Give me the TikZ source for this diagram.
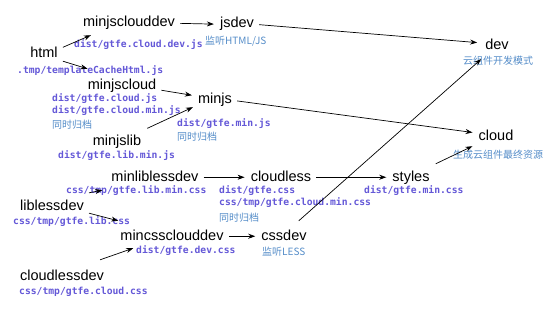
\documentclass[tikz,border=0pt]{standalone}
\usepackage{fontspec}
\setmainfont{Liberation Sans}
\newfontfamily\pathfont{DejaVu Sans Mono}
\newfontfamily\cjkfont{Noto Sans CJK SC}
\usetikzlibrary{arrows.meta}
\definecolor{GtPurple}{RGB}{100,88,215}
\definecolor{GtBlue}{RGB}{84,140,200}

\begin{document}
\begin{tikzpicture}[x=1pt, y=-1pt,
          task/.style={inner sep=0pt, anchor=base, text height=10.5pt, text depth=3pt,
                       font=\fontsize{14.5}{16}\selectfont},
          file/.style={inner sep=0pt, anchor=west, text=GtPurple,
                       font=\pathfont\bfseries\fontsize{9.7}{11}\selectfont},
          note/.style={inner sep=0pt, anchor=west, text=GtBlue,
                       font=\cjkfont\fontsize{10}{12}\selectfont},
          arr/.style={-{Stealth[length=7pt, width=5pt]}, draw=black, line width=0.7pt},
          hop/.style={arr, shorten <=5pt, shorten >=6pt}
        ]
        \useasboundingbox (0,0) rectangle (554,310);

        % js tasks
        \node[task] (minjsclouddev)  at (129, 27)  {minjsclouddev};
        \node[task] (jsdev)          at (237, 28)  {jsdev};
        \node[task] (html)           at (44, 58)   {html};
        \node[task] (dev)            at (497, 50)  {dev};
        \node[task] (minjscloud)     at (122, 90)  {minjscloud};
        \node[task] (minjs)          at (215, 104) {minjs};
        \node[task] (cloud)          at (496, 141) {cloud};
        \node[task] (minjslib)       at (117, 146) {minjslib};

        % css tasks
        \node[task] (minliblessdev)  at (155, 181) {minliblessdev};
        \node[task] (cloudless)      at (281, 181) {cloudless};
        \node[task] (styles)         at (411, 181) {styles};
        \node[task] (liblessdev)     at (52, 210)  {liblessdev};
        \node[task] (mincssclouddev) at (172, 240) {mincssclouddev};
        \node[task] (cssdev)         at (284, 240) {cssdev};
        \node[task] (cloudlessdev)   at (62, 280)  {cloudlessdev};

        % output files
        \node[file] (minjsclouddev-out)  at (74, 45)  {dist/gtfe.cloud.dev.js};
        \node[file] (html-out)           at (17, 71)  {.tmp/templateCacheHtml.js};
        \node[file] (minjscloud-out)     at (52, 99)  {dist/gtfe.cloud.js};
        \node[file] (minjscloud-outmin)  at (52, 111) {dist/gtfe.cloud.min.js};
        \node[file] (minjs-out)          at (177, 124) {dist/gtfe.min.js};
        \node[file] (minjslib-out)       at (58, 156) {dist/gtfe.lib.min.js};
        \node[file] (minliblessdev-out)  at (66, 191) {css/tmp/gtfe.lib.min.css};
        \node[file] (cloudless-out)      at (219, 191) {dist/gtfe.css};
        \node[file] (cloudless-outmin)   at (219, 203) {css/tmp/gtfe.cloud.min.css};
        \node[file] (styles-out)         at (364, 191) {dist/gtfe.min.css};
        \node[file] (liblessdev-out)     at (13, 222) {css/tmp/gtfe.lib.css};
        \node[file] (mincssclouddev-out) at (136, 251) {dist/gtfe.dev.css};
        \node[file] (cloudlessdev-out)   at (19, 292) {css/tmp/gtfe.cloud.css};

        % notes
        \node[note] (jsdev-note)      at (205, 41)  {监听HTML/JS};
        \node[note] (dev-note)        at (463, 61)  {云组件开发模式};
        \node[note] (minjscloud-note) at (52, 125)  {同时归档};
        \node[note] (minjs-note)      at (177, 137) {同时归档};
        \node[note] (cloud-note)      at (453, 155) {生成云组件最终资源};
        \node[note] (cloudless-note)  at (219, 218) {同时归档};
        \node[note] (cssdev-note)     at (262, 252) {监听LESS};

        \draw[arr] ([xshift=5pt]html.north east) -- ([shift={(8pt,-5pt)}]minjsclouddev.south west);
        \draw[arr] ([xshift=5pt]html.south east) -- ([yshift=10.5pt]minjscloud.north west);
        \draw[hop] (minjsclouddev.east) -- (jsdev.west);
        \draw[hop, shorten >=8pt] (jsdev.east) -- ([yshift=3pt]dev.west);
        \draw[arr] ([shift={(5pt,-4pt)}]minjscloud.east) -- ([shift={(-6pt,5pt)}]minjs.west);
        \draw[arr] ([shift={(6pt,7pt)}]minjslib.north east) -- ([xshift=-5pt]minjs.south west);
        \draw[hop] (minjs.east) -- ([yshift=4pt]cloud.west);
        \draw[hop] (minliblessdev.east) -- (cloudless.west);
        \draw[arr] ([shift={(5pt,6.5pt)}]liblessdev.north east) -- ([shift={(-9pt,-6pt)}]minliblessdev.south west);
        \draw[hop] (cloudless.east) -- (styles.west);
        \draw[arr] ([shift={(6pt,6.5pt)}]styles.north east) -- ([shift={(-6pt,-2pt)}]cloud.south west);
        \draw[arr] ([xshift=5pt]liblessdev.south east) -- ([shift={(-2pt,8.5pt)}]mincssclouddev.north west);
        \draw[hop] (mincssclouddev.east) -- (cssdev.west);
        \draw[arr] ([shift={(-4pt,9.5pt)}]cloudlessdev.north east) -- ([shift={(13pt,-5pt)}]mincssclouddev.south west);
        \draw[arr] ([shift={(-8pt,8.5pt)}]cssdev.north east) -- ([shift={(-4pt,-6pt)}]dev.south west);
      \end{tikzpicture}
\end{document}
